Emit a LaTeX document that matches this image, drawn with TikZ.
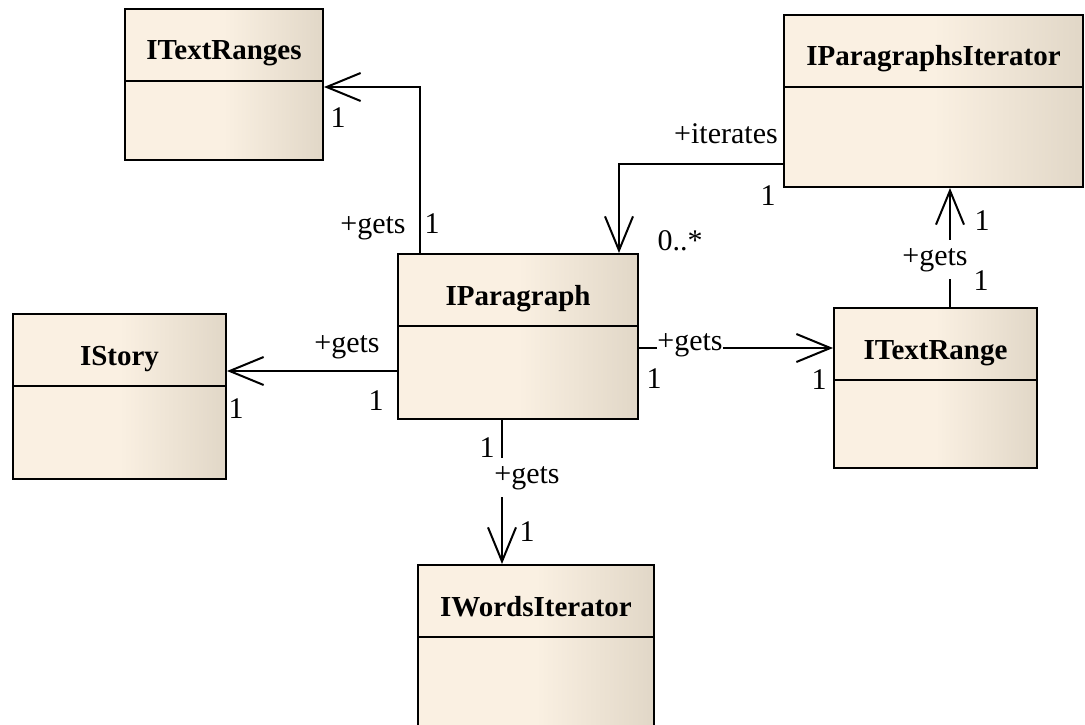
\documentclass[tikz,border=0pt]{standalone}
\usepackage{fontspec}
\setmainfont{Liberation Serif}
\usepackage[dvipsnames]{xcolor}
\usetikzlibrary{arrows.meta}
\definecolor{classcream}{RGB}{250,240,226}
\definecolor{classshade}{RGB}{225,215,199}

\begin{document}
\begin{tikzpicture}[x=1pt,y=-1pt,-,>={Straight Barb[length=34pt,width=28pt]},line width=2pt,
    class node/.style={rectangle,draw,anchor=north west,inner sep=0pt,left color=classcream,right color=classshade,middle color=classcream},
    title node/.style={anchor=base,font=\fontsize{29}{34}\selectfont\bfseries},
    end node/.style={anchor=base,fill=white,inner sep=1pt,font=\fontsize{30}{34}\selectfont}]
            \useasboundingbox (0,0) rectangle (1085,725);

            \node[class node,minimum width=240pt,minimum height=165pt] (1) at (397,253) {};
            \node[class node,minimum width=198pt,minimum height=151pt] (2) at (124,8) {};
            \node[class node,minimum width=299pt,minimum height=172pt] (3) at (783,14) {};
            \node[class node,minimum width=213pt,minimum height=165pt] (4) at (12,313) {};
            \node[class node,minimum width=203pt,minimum height=160pt] (5) at (833,307) {};
            \node[class node,minimum width=236pt,minimum height=200pt] (6) at (417,564) {};

            \foreach \n/\t in {1/IParagraph,2/ITextRanges,3/IParagraphsIterator,4/IStory,5/ITextRange,6/IWordsIterator}{
                \node[title node] (t\n) at ([yshift=-52pt]\n.north) {\t};
                \draw ([yshift=-73pt]\n.north west) -- ([yshift=-73pt]\n.north east);
            }

            \draw[->] ([xshift=23pt]1.north west) |- (2.east |- 0,87);
            \draw[->] (3.west |- 0,164) -| ([xshift=222pt]1.north west);
            \draw[->] (950,0 |- 5.north) -- (950,0 |- 3.south);
            \draw[->] (1.west |- 0,371) -- (4.east |- 0,371);
            \draw[->] (1.east |- 0,348) -- (5.west |- 0,348);
            \draw[->] (502,0 |- 1.south) -- (502,0 |- 6.north);

            \node[end node] (m1) at (373,233) {+gets};
            \node[end node] (m2) at (432,233) {1};
            \node[end node] (m3) at (338,128) {1};
            \node[end node] (m4) at (726,143) {+iterates};
            \node[end node] (m5) at (768,205) {1};
            \node[end node] (m6) at (680,250) {0..*};
            \node[end node] (m7) at (982,230) {1};
            \node[end node,inner ysep=8pt] (m8) at (935,265) {+gets};
            \node[end node] (m9) at (981,290) {1};
            \node[end node] (m10) at (347,352) {+gets};
            \node[end node] (m11) at (376,410) {1};
            \node[end node] (m12) at (236,418) {1};
            \node[end node,inner xsep=0pt] (m13) at (690,350) {+gets};
            \node[end node] (m14) at (654,388) {1};
            \node[end node] (m15) at (819,389) {1};
            \node[end node] (m16) at (487,457) {1};
            \node[end node,inner ysep=8pt] (m17) at (527,483) {+gets};
            \node[end node] (m18) at (527,541) {1};
\end{tikzpicture}
\end{document}
